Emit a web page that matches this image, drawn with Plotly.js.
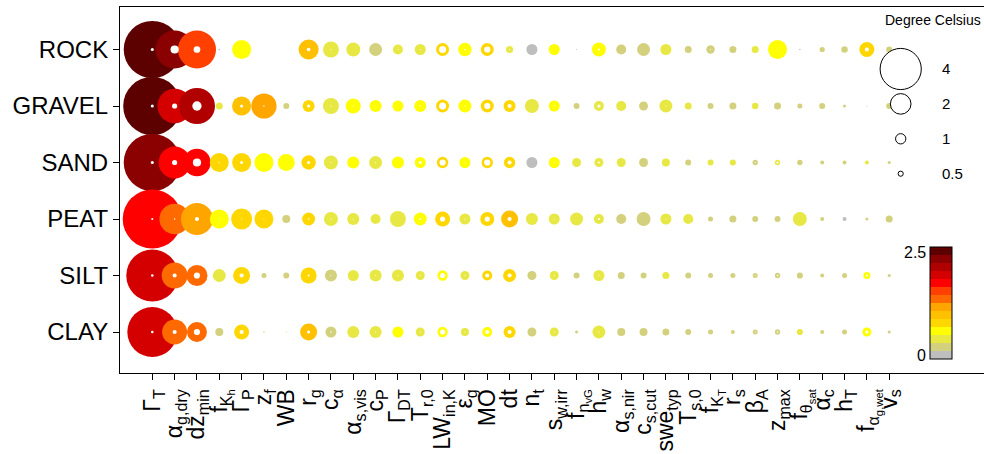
<!DOCTYPE html>
<html>
<head>
<meta charset="utf-8">
<script src="https://cdn.plot.ly/plotly-3.0.1.min.js"></script>
<style>html,body{margin:0;padding:0;overflow:hidden;background:#fff}</style>
</head>
<body>
<div id="chart" style="width:984px;height:454px"></div>
<script>
// Parameter labels along the x axis (subscripts as markup)
const paramLabels = [
  'Γ<sub>T</sub>', 'α<sub>g,dry</sub>', 'dz<sub>min</sub>', 'f<sub>K<sub>h</sub></sub>', 'Γ<sub>P</sub>',
  'z<sub>f</sub>', 'WB', 'r<sub>g</sub>', 'c<sub>α</sub>', 'α<sub>s,vis</sub>', 'c<sub>P</sub>',
  'Γ<sub>DT</sub>', 'T<sub>r,0</sub>', 'LW<sub>in,K</sub>', 'ε<sub>g</sub>', 'MO', 'dt', 'n<sub>t</sub>',
  's<sub>w,irr</sub>', 'f<sub>n<sub>vG</sub></sub>', 'h<sub>w</sub>', 'α<sub>s,nir</sub>', 'c<sub>s,cut</sub>',
  'swe<sub>typ</sub>', 'T<sub>s,0</sub>', 'f<sub>K<sub>T</sub></sub>', 'r<sub>s</sub>', 'β<sub>A</sub>',
  'z<sub>max</sub>', 'f<sub>θ<sub>sat</sub></sub>', 'α<sub>c</sub>', 'h<sub>T</sub>',
  'f<sub>α<sub>g,wet</sub></sub>', 'v<sub>s</sub>'
];

const soils = ['ROCK', 'GRAVEL', 'SAND', 'PEAT', 'SILT', 'CLAY'];

// Outer bubble (°C), colour value (°C) and inner white core (°C) per soil
const ROCK_outer   = [5.55,3.70,3.70,0.15,1.85,0,0,1.95,1.55,1.36,1.26,0.97,1.07,1.26,1.30,1.26,0.68,1.07,1.07,0.10,1.36,0.97,1.26,1.07,0.68,0.82,0.68,0.68,1.84,0.15,0.50,0.63,1.46,0.58];
const ROCK_tone    = [2.45,2.23,1.52,0.10,0.62,0,0,0.98,0.45,0.45,0.27,0.45,0.45,0.80,0.62,0.80,0.45,0.10,0.62,0.10,0.62,0.27,0.27,0.45,0.27,0.27,0.27,0.45,0.62,0.10,0.27,0.27,0.80,0.27];
const ROCK_inner   = [0.30,0.80,0.65,0,0,0,0,0.35,0.10,0,0,0.10,0.10,0.68,0.15,0.60,0.10,0,0,0,0.20,0,0,0,0,0.10,0,0,0.10,0,0,0,0.40,0];

const GRAVEL_outer = [5.65,3.35,3.50,0.68,1.85,2.45,0.58,1.17,1.55,1.46,1.17,1.07,1.17,1.26,1.26,1.26,1.17,1.36,1.07,0.58,0.97,0.97,0.87,1.26,0.68,0.58,0.68,0.63,0.68,0.49,0.58,0.30,0.10,0.58];
const GRAVEL_tone  = [2.45,1.88,2.05,0.45,0.98,1.16,0.27,0.80,0.45,0.62,0.62,0.62,0.62,0.80,0.62,0.80,0.80,0.45,0.62,0.27,0.45,0.45,0.27,0.45,0.45,0.27,0.27,0.45,0.27,0.27,0.27,0.27,0.10,0.27];
const GRAVEL_inner = [0.30,0.50,0.90,0,0.30,0.15,0,0.30,0.10,0.10,0.05,0,0.15,0.68,0.10,0.60,0.40,0,0.10,0,0.30,0,0,0.10,0,0,0,0,0,0,0,0,0,0];

const SAND_outer   = [5.55,3.10,2.65,1.84,1.84,1.84,1.65,1.40,1.36,1.17,1.26,1.17,1.07,1.10,1.07,1.10,1.10,1.07,1.07,0.87,0.87,0.87,0.87,0.78,0.58,0.58,0.58,0.52,0.52,0.52,0.39,0.39,0.39,0.30];
const SAND_tone    = [2.23,1.70,1.70,0.80,0.80,0.62,0.62,0.80,0.45,0.62,0.45,0.62,0.62,0.80,0.62,0.80,0.80,0.10,0.62,0.45,0.45,0.45,0.27,0.45,0.27,0.45,0.45,0.27,0.45,0.27,0.27,0.27,0.45,0.27];
const SAND_inner   = [0.30,0.50,0.80,0.10,0.30,0.05,0,0.30,0.10,0,0.10,0,0.30,0.60,0.10,0.60,0.40,0,0.10,0,0.20,0,0,0,0,0,0,0.10,0.20,0,0,0,0,0];

const PEAT_outer   = [5.75,2.95,3.10,1.84,2.04,1.84,0.78,1.26,1.36,1.17,0.97,1.55,1.26,1.46,1.07,1.36,1.65,1.17,1.07,1.26,0.97,0.97,1.36,1.07,0.97,0.49,0.68,0.58,0.58,1.36,0.39,0.39,0.30,0.68];
const PEAT_tone    = [1.70,1.34,1.16,0.62,0.80,0.80,0.27,0.80,0.45,0.45,0.45,0.45,0.62,0.80,0.45,0.80,0.98,0.45,0.45,0.45,0.45,0.27,0.27,0.45,0.45,0.27,0.27,0.27,0.27,0.45,0.27,0.10,0.27,0.27];
const PEAT_inner   = [0.20,0.15,0.40,0.10,0.10,0.10,0,0.15,0.10,0.10,0,0,0.20,0.50,0.10,0.50,0.40,0,0.10,0,0.20,0,0,0.10,0,0,0,0,0,0,0,0,0,0];

const SILT_outer   = [5.05,2.52,2.04,1.26,1.65,0.49,0.58,1.55,1.17,1.07,1.17,1.17,0.87,1.00,0.87,0.97,1.26,0.87,0.87,0.58,1.07,0.68,0.58,0.68,0.58,0.49,0.49,0.49,0.52,0.60,0.39,0.49,0.68,0.30];
const SILT_tone    = [1.88,1.34,1.34,0.45,0.80,0.27,0.27,0.80,0.27,0.45,0.45,0.45,0.45,0.62,0.45,0.80,0.80,0.27,0.45,0.27,0.45,0.27,0.27,0.45,0.27,0.27,0.27,0.27,0.27,0.27,0.27,0.27,0.62,0.27];
const SILT_inner   = [0.25,0.40,0.60,0,0.40,0,0,0.20,0.10,0,0.10,0.10,0.10,0.50,0.10,0.40,0.40,0,0.10,0,0.10,0,0,0,0,0,0,0.10,0.15,0,0,0,0.20,0];

const CLAY_outer   = [4.85,2.43,1.94,0.78,1.46,0.15,0.10,1.65,1.07,1.17,1.17,1.07,0.87,1.00,0.78,0.97,1.17,0.87,0.87,0.30,1.26,0.78,0.78,0.68,0.58,0.49,0.39,0.49,0.52,0.60,0.39,0.49,0.87,0.30];
const CLAY_tone    = [1.88,1.34,1.34,0.27,0.80,0.27,0.27,0.98,0.27,0.45,0.45,0.62,0.45,0.62,0.45,0.62,0.80,0.27,0.45,0.27,0.45,0.27,0.27,0.27,0.27,0.27,0.27,0.27,0.27,0.45,0.27,0.27,0.62,0.27];
const CLAY_inner   = [0.25,0.40,0.60,0,0.40,0,0,0.30,0.15,0,0.10,0,0.10,0.50,0.10,0.40,0.40,0,0.10,0,0.10,0,0,0,0,0,0,0.10,0.15,0,0,0,0.30,0];

// Size key values (°C) and colour bar limits
const keyValues = [4, 2, 1, 0.5];
const keyLabels = ['4', '2', '1', '0.5'];
const toneMin = 0, toneMax = 2.5;

// Stepped palette, low to high
const palette = ['#bebebe','#d4d17e','#e8e845','#ffff00','#ffd700','#ffc000','#ffa500',
                 '#ff6a00','#ff4000','#ff0000','#d40000','#b00000','#8b0000','#5c0000'];

const outerRows = [ROCK_outer, GRAVEL_outer, SAND_outer, PEAT_outer, SILT_outer, CLAY_outer];
const toneRows  = [ROCK_tone, GRAVEL_tone, SAND_tone, PEAT_tone, SILT_tone, CLAY_tone];
const innerRows = [ROCK_inner, GRAVEL_inner, SAND_inner, PEAT_inner, SILT_inner, CLAY_inner];

// ---- layout geometry ----
const W = 984, H = 454;
const M = {l: 120, r: 0, t: 7, b: 81};
const plotW = W - M.l - M.r, plotH = H - M.t - M.b;
const PX_PER_DEG = 10.3;               // bubble diameter in px per °C
const SIZEREF = 1 / PX_PER_DEG;

const xs = [], ys = [], sOuter = [], sTone = [], sInner = [];
outerRows.forEach((row, r) => {
  row.forEach((v, c) => {
    xs.push(c); ys.push(r);
    sOuter.push(v); sTone.push(toneRows[r][c]); sInner.push(innerRows[r][c]);
  });
});

const colorscale = [];
palette.forEach((col, i) => {
  colorscale.push([i / palette.length, col]);
  colorscale.push([(i + 1) / palette.length, col]);
});

const px2paperX = px => (px - M.l) / plotW;
const px2paperY = py => (M.t + plotH - py) / plotH;

// colour bar box in pixels
const cb = {left: 929.5, top: 246.5, bottom: 358.5, width: 22};

const bubbles = {
  type: 'scatter', mode: 'markers', x: xs, y: ys,
  hoverinfo: 'skip', showlegend: false, cliponaxis: true,
  marker: {
    size: sOuter, sizemode: 'diameter', sizeref: SIZEREF,
    color: sTone, colorscale: colorscale, cmin: toneMin, cmax: toneMax,
    line: {width: 0}, opacity: 1, showscale: true,
    colorbar: {
      x: px2paperX(cb.left), xanchor: 'left', xpad: 0,
      y: px2paperY((cb.top + cb.bottom) / 2), yanchor: 'middle', ypad: 0,
      len: cb.bottom - cb.top, lenmode: 'pixels',
      thickness: cb.width, thicknessmode: 'pixels',
      outlinecolor: '#000', outlinewidth: 1,
      showticklabels: false, ticks: ''
    }
  }
};

const cores = {
  type: 'scatter', mode: 'markers', x: xs, y: ys,
  hoverinfo: 'skip', showlegend: false,
  marker: {size: sInner, sizemode: 'diameter', sizeref: SIZEREF, color: '#ffffff', opacity: 1, line: {width: 0}}
};

// size key, drawn on a pixel-scaled overlay axis
const keyX = 900.7, keyTop = 69, keyStep = 34.9;
const keyYs = keyValues.map((v, i) => keyTop + i * keyStep);
const sizeKey = {
  type: 'scatter', mode: 'markers', xaxis: 'x2', yaxis: 'y2',
  x: keyValues.map(() => keyX - M.l),
  y: keyYs.map(py => M.t + plotH - py),
  hoverinfo: 'skip', showlegend: false, cliponaxis: false,
  marker: {size: keyValues, sizemode: 'diameter', sizeref: SIZEREF, opacity: 1,
           color: '#ffffff', line: {color: '#000', width: 1}}
};

const annotations = [
  {text: 'Degree Celsius', x: px2paperX(883), y: px2paperY(20), xanchor: 'left', yanchor: 'middle', font: {size: 14}},
  {text: '2.5', x: px2paperX(927.5), y: px2paperY(252), xanchor: 'right', yanchor: 'middle', font: {size: 16}},
  {text: '0', x: px2paperX(927.5), y: px2paperY(355), xanchor: 'right', yanchor: 'middle', font: {size: 16}}
].concat(keyLabels.map((t, i) => ({
  text: t, x: px2paperX(940), y: px2paperY(keyYs[i]), xanchor: 'left', yanchor: 'middle', font: {size: 15}
}))).map(a => Object.assign({xref: 'paper', yref: 'paper', showarrow: false}, a));

const colStep = 22.33, firstCol = 152.3;
const rowStep = 56.5, firstRow = 49.5;

const layout = {
  width: W, height: H, margin: M,
  paper_bgcolor: '#fff', plot_bgcolor: '#fff',
  font: {family: 'Liberation Sans, Arial, Helvetica, sans-serif', color: '#000'},
  xaxis: {
    range: [(M.l - firstCol) / colStep, (W - M.r - firstCol) / colStep],
    tickvals: paramLabels.map((_, i) => i), ticktext: paramLabels,
    tickangle: -90, ticks: 'outside', ticklen: 6, tickcolor: '#000', tickwidth: 1,
    showline: true, linecolor: '#000', linewidth: 1, mirror: true,
    showgrid: false, zeroline: false, tickfont: {size: 23}, fixedrange: true
  },
  yaxis: {
    range: [(M.t + plotH - firstRow) / rowStep, (M.t - firstRow) / rowStep],
    tickvals: soils.map((_, i) => i), ticktext: soils,
    ticks: 'outside', ticklen: 6, tickcolor: '#000', tickwidth: 1,
    showline: true, linecolor: '#000', linewidth: 1, mirror: false,
    showgrid: false, zeroline: false, tickfont: {size: 24}, fixedrange: true
  },
  xaxis2: {overlaying: 'x', range: [0, plotW], visible: false, fixedrange: true},
  yaxis2: {overlaying: 'y', range: [0, plotH], visible: false, fixedrange: true},
  annotations: annotations
};

Plotly.newPlot('chart', [bubbles, cores, sizeKey], layout, {staticPlot: true, displayModeBar: false});
</script>
</body>
</html>
